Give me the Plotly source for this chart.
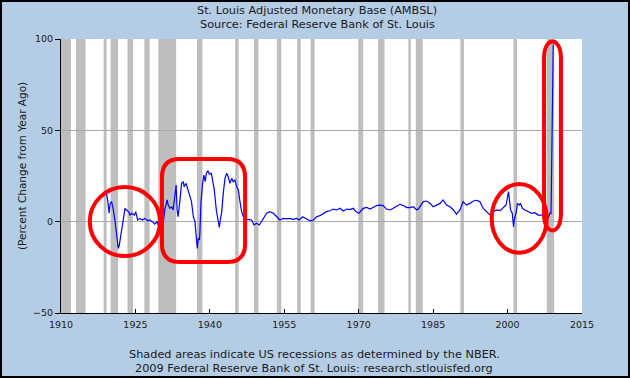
import plotly.graph_objects as go

# ---- data (decimal years, % change from year ago) ----
years = [
    1919.07, 1919.4, 1919.7, 1919.9, 1920.2, 1920.5, 1920.9, 1921.2, 1921.55, 1921.75,
    1922.1, 1922.56, 1922.9, 1923.2, 1923.6, 1923.9, 1924.2, 1924.8, 1925.05, 1925.45,
    1925.9, 1926.4, 1926.9, 1927.5, 1927.9, 1928.4, 1928.9, 1929.35, 1929.6, 1929.95,
    1930.3, 1930.6, 1930.9, 1931.4, 1931.6, 1931.97, 1932.3, 1932.6, 1932.98, 1933.2,
    1933.4, 1933.6, 1933.98, 1934.3, 1934.65, 1934.8, 1935.2, 1935.66, 1935.99, 1936.3,
    1936.67, 1937.0, 1937.2, 1937.47, 1937.67, 1937.9, 1938.0, 1938.2, 1938.54, 1938.8,
    1939.07, 1939.3, 1939.6, 1939.9, 1940.3, 1940.6, 1940.9, 1941.3, 1941.6, 1941.9,
    1942.1, 1942.4, 1942.7, 1943.05, 1943.4, 1943.7, 1944.05, 1944.4, 1944.7, 1945.06,
    1945.4, 1945.74, 1946.07, 1946.4, 1946.75, 1947.3, 1947.75, 1948.4, 1948.9, 1949.4,
    1949.97, 1950.4, 1950.9, 1951.45, 1952.1, 1952.8, 1953.5, 1954.1, 1954.8, 1955.5,
    1956.1, 1956.8, 1957.5, 1958.0, 1958.7, 1959.4, 1960.2, 1960.85, 1961.5, 1962.2,
    1962.9, 1963.5, 1964.2, 1964.9, 1965.6, 1966.2, 1966.9, 1967.6, 1968.2, 1968.9,
    1969.4, 1970.05, 1970.9, 1971.6, 1972.3, 1972.9, 1973.6, 1974.3, 1974.9, 1975.6,
    1976.3, 1976.97, 1977.6, 1978.3, 1979.0, 1979.7, 1980.3, 1981.0, 1981.7, 1982.0,
    1982.35, 1983.0, 1983.7, 1984.4, 1985.0, 1985.7, 1986.4, 1987.0, 1987.7, 1988.4,
    1989.1, 1989.7, 1990.4, 1991.05, 1991.7, 1992.4, 1993.1, 1993.7, 1994.4, 1995.1,
    1995.7, 1996.5, 1997.1, 1997.8, 1998.5, 1999.1, 1999.7, 2000.2, 2000.35, 2000.6,
    2000.95, 2001.2, 2001.4, 2001.7, 2002.0, 2002.4, 2002.6, 2003.0, 2003.5, 2004.2,
    2004.85, 2005.5, 2006.2, 2006.9, 2007.35, 2007.9, 2008.2, 2008.55, 2008.75, 2008.85,
    2009.0, 2009.1, 2009.2,
]
pct_change = [
    16.4, 11.9, 4.6, 10.0, 11.0, 7.3, 0.0, -8.2, -14.6, -12.8,
    -6.4, 2.7, 7.3, 6.4, 5.5, 3.6, 4.6, 3.6, 5.5, 0.9,
    1.8, 0.9, 1.8, 0.5, 0.9, 0.0, -1.3, 0.0, -1.8, 0.9,
    -1.8, -0.9, 6.4, 11.9, 9.1, 7.3, 8.2, 6.4, 15.5, 20.0,
    6.4, 2.7, 11.9, 21.0, 21.9, 19.2, 21.0, 16.4, 13.7, 11.0,
    2.7, 0.0, -6.4, -14.6, -9.1, -10.0, -5.5, 10.0, 21.0, 25.5,
    21.9, 26.5, 27.9, 26.0, 26.5, 21.9, 17.3, 6.4, 0.9, -3.1,
    0.9, 5.5, 15.5, 23.7, 26.5, 24.6, 21.0, 23.7, 21.9, 22.8,
    19.2, 17.3, 11.0, 5.5, 2.7, 0.9, 1.3, 0.9, -1.8, -0.9,
    -1.8, 0.0, 1.8, 4.6, 5.5, 4.6, 2.7, 0.9, 1.8, 1.5,
    1.8, 1.3, 1.8, 0.9, 2.7, 1.8, 0.4, 0.9, 2.7, 3.3,
    4.6, 5.5, 6.0, 6.9, 6.4, 7.3, 5.8, 6.9, 6.6, 7.3,
    5.5, 4.6, 7.3, 7.8, 6.9, 7.7, 8.8, 9.1, 8.8, 6.9,
    6.4, 7.3, 8.2, 9.5, 8.8, 7.7, 7.7, 8.2, 6.4, 6.9,
    8.2, 11.0, 11.3, 10.0, 8.2, 9.1, 10.0, 11.9, 9.1, 8.2,
    6.4, 4.0, 6.4, 11.0, 9.1, 10.0, 11.3, 11.7, 11.0, 7.3,
    5.5, 3.6, 5.5, 6.4, 6.0, 7.3, 9.1, 16.4, 11.9, 6.4,
    4.6, -2.7, 1.8, 4.6, 10.0, 9.1, 10.0, 7.3, 6.4, 5.5,
    4.6, 4.9, 3.6, 3.6, 2.7, 2.7, 2.2, 4.6, 4.5, 22.0,
    60.0, 85.0, 97.0,
]

# NBER recessions (start, end) in decimal years
recession_start = [1910.0, 1913.0, 1918.6, 1920.0, 1923.4, 1926.8, 1929.6, 1937.4, 1945.1, 1948.9,
                   1953.5, 1957.6, 1960.3, 1969.9, 1973.9, 1980.0, 1981.5, 1990.5, 2001.2, 2007.9]
recession_end = [1912.0, 1914.96, 1919.2, 1921.5, 1924.5, 1927.85, 1933.2, 1938.5, 1945.8, 1949.8,
                 1954.4, 1958.3, 1961.1, 1970.9, 1975.2, 1980.5, 1982.9, 1991.2, 2001.9, 2009.4]

x_ticks = [1910, 1925, 1940, 1955, 1970, 1985, 2000, 2015]
y_ticks = [-50, 0, 50, 100]
x_range = [1910, 2015]

title_1 = "St. Louis Adjusted Monetary Base (AMBSL)"
title_2 = "Source: Federal Reserve Bank of St. Louis"
y_title = "(Percent Change from Year Ago)"
foot_1 = "Shaded areas indicate US recessions as determined by the NBER."
foot_2 = "2009 Federal Reserve Bank of St. Louis: research.stlouisfed.org"

# ---- layout geometry ----
W, H = 630, 378
ML, MR, MT, MB = 61, 48, 39, 65
PW, PH = W - ML - MR, H - MT - MB
FONT = "DejaVu Sans"
TXT = "#1a1a1a"
TSIZE = 11.3


def px_x(p):  # figure pixel -> paper x
    return (p - ML) / PW


def px_y(p):  # figure pixel -> paper y
    return (H - MB - p) / PH


def yr_x(yr):  # year -> paper x
    return (yr - x_range[0]) / (x_range[1] - x_range[0])


fig = go.Figure()
fig.add_trace(go.Scatter(x=years, y=pct_change, mode="lines",
                         line=dict(color="#0000ff", width=1.2), hoverinfo="skip",
                         showlegend=False))

shapes = []
for s, e in zip(recession_start, recession_end):
    shapes.append(dict(type="rect", xref="x", yref="paper", x0=s, x1=e, y0=0, y1=1,
                       fillcolor="#bebebe", line=dict(width=0), layer="below"))

red = dict(color="#ff0000", width=4)
# circle around 1920s
shapes.append(dict(type="circle", xref="x", yref="y", x0=1915.8, x1=1929.95, y0=-18.8, y1=19.0,
                   line=red))
# rounded rectangle around 1930-1947
rx0, rx1, ry0, ry1 = 1930.35, 1947.1, -22.1, 34.3
cx, cy = 3.6, 10.0
path = (f"M {rx0+cx},{ry1} L {rx1-cx},{ry1} Q {rx1},{ry1} {rx1},{ry1-cy} "
        f"L {rx1},{ry0+cy} Q {rx1},{ry0} {rx1-cx},{ry0} L {rx0+cx},{ry0} "
        f"Q {rx0},{ry0} {rx0},{ry0+cy} L {rx0},{ry1-cy} Q {rx0},{ry1} {rx0+cx},{ry1} Z")
shapes.append(dict(type="path", xref="x", yref="y", path=path, line=red))
# ellipse around 2000s
shapes.append(dict(type="circle", xref="x", yref="y", x0=1996.8, x1=2007.9, y0=-17.0, y1=20.6,
                   line=red))
# tall stadium around 2008-09 spike (paper coords so it can rise above the plot top)
sx0, sx1 = yr_x(2007.35), yr_x(2010.75)
sy0, sy1 = px_y(236), px_y(36)
cap = 22 / PH
spath = (f"M {sx0},{sy1-cap} C {sx0},{sy1} {sx1},{sy1} {sx1},{sy1-cap} "
         f"L {sx1},{sy0+cap} C {sx1},{sy0} {sx0},{sy0} {sx0},{sy0+cap} Z")
shapes.append(dict(type="path", xref="paper", yref="paper", path=spath, line=red))

# outer figure border
shapes.append(dict(type="rect", xref="paper", yref="paper",
                   x0=px_x(1), x1=px_x(W - 1), y0=px_y(H - 1), y1=px_y(1),
                   line=dict(color="#000000", width=2)))

annotations = [
    dict(text=title_1, x=px_x(W / 2 + 2), y=px_y(10.5), xref="paper", yref="paper",
         showarrow=False, font=dict(family=FONT, size=TSIZE, color=TXT), xanchor="center", yanchor="middle"),
    dict(text=title_2, x=px_x(W / 2 + 2), y=px_y(24), xref="paper", yref="paper",
         showarrow=False, font=dict(family=FONT, size=TSIZE, color=TXT), xanchor="center", yanchor="middle"),
    dict(text=foot_1, x=px_x(W / 2 - 1), y=px_y(354), xref="paper", yref="paper",
         showarrow=False, font=dict(family=FONT, size=TSIZE, color=TXT), xanchor="center", yanchor="middle"),
    dict(text=foot_2, x=px_x(W / 2 - 1), y=px_y(368), xref="paper", yref="paper",
         showarrow=False, font=dict(family=FONT, size=TSIZE, color=TXT), xanchor="center", yanchor="middle"),
    dict(text=y_title, x=px_x(22), y=px_y(166), xref="paper", yref="paper", textangle=-90,
         showarrow=False, font=dict(family=FONT, size=10.5, color=TXT), xanchor="center", yanchor="middle"),
]

fig.update_layout(
    width=W, height=H, autosize=False,
    margin=dict(l=ML, r=MR, t=MT, b=MB, pad=0),
    paper_bgcolor="#b4cde5", plot_bgcolor="#ffffff",
    font=dict(family=FONT, size=10, color=TXT),
    shapes=shapes, annotations=annotations, showlegend=False,
    xaxis=dict(range=x_range, tickvals=x_ticks, ticktext=[str(v) for v in x_ticks],
               showgrid=False, zeroline=False, showline=True, linecolor="#000000", linewidth=1,
               ticks="inside", ticklen=4, tickcolor="#000000", tickfont=dict(size=9.5),
               ticklabelstandoff=3),
    yaxis=dict(range=[-50, 100], tickvals=y_ticks, ticktext=["\u221250", "0", "50", "100"],
               showgrid=True, gridcolor="#a8a8a8", gridwidth=1, zeroline=False,
               showline=True, linecolor="#000000", linewidth=1,
               ticks="outside", ticklen=5, tickcolor="#000000", tickfont=dict(size=9.5)),
)

fig.write_html("out.html", config={"displayModeBar": False},
               post_script="document.body.style.margin='0';document.body.style.overflow='hidden';")
